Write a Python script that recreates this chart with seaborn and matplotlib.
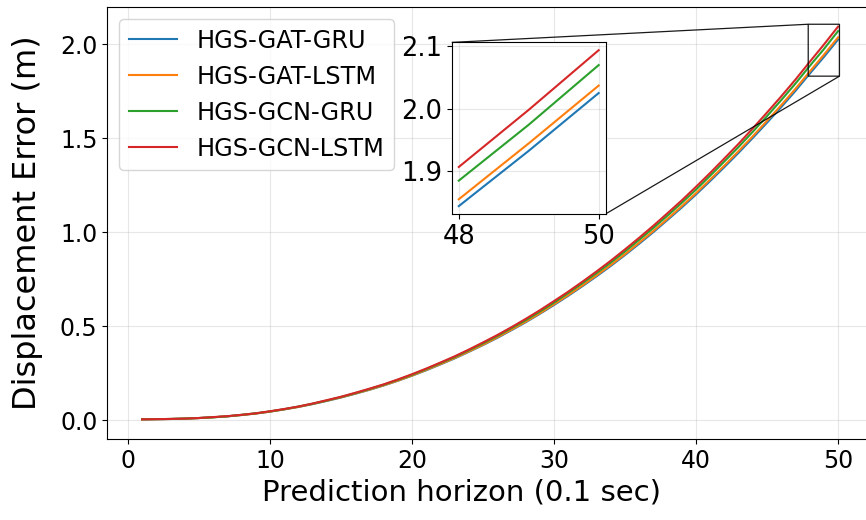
import pandas as pd
import matplotlib
matplotlib.use("Agg")
import matplotlib.pyplot as plt
import seaborn as sns

horizon = list(range(1, 51))

gat_gru = [0.005, 0.006, 0.007, 0.009, 0.012, 0.016, 0.021, 0.028, 0.036, 0.046,
           0.058, 0.071, 0.086, 0.103, 0.121, 0.141, 0.162, 0.185, 0.210, 0.237,
           0.266, 0.297, 0.329, 0.364, 0.400, 0.438, 0.479, 0.521, 0.566, 0.613,
           0.662, 0.713, 0.766, 0.821, 0.879, 0.939, 1.001, 1.066, 1.132, 1.201,
           1.273, 1.347, 1.423, 1.502, 1.583, 1.666, 1.752, 1.843, 1.932, 2.025]
gat_lstm = [0.005, 0.006, 0.007, 0.009, 0.012, 0.016, 0.021, 0.028, 0.036, 0.046,
            0.058, 0.071, 0.087, 0.104, 0.122, 0.142, 0.163, 0.186, 0.211, 0.238,
            0.268, 0.299, 0.331, 0.366, 0.402, 0.441, 0.482, 0.524, 0.569, 0.617,
            0.666, 0.717, 0.771, 0.826, 0.884, 0.945, 1.007, 1.072, 1.139, 1.208,
            1.281, 1.355, 1.432, 1.511, 1.593, 1.676, 1.763, 1.854, 1.944, 2.037]
gcn_gru = [0.005, 0.006, 0.007, 0.009, 0.012, 0.016, 0.021, 0.029, 0.037, 0.047,
           0.059, 0.073, 0.088, 0.105, 0.124, 0.144, 0.166, 0.189, 0.215, 0.242,
           0.272, 0.304, 0.336, 0.372, 0.409, 0.448, 0.490, 0.532, 0.578, 0.626,
           0.677, 0.729, 0.783, 0.839, 0.898, 0.960, 1.023, 1.089, 1.157, 1.227,
           1.301, 1.377, 1.454, 1.535, 1.618, 1.703, 1.791, 1.884, 1.974, 2.070]
gcn_lstm = [0.005, 0.006, 0.007, 0.009, 0.012, 0.017, 0.022, 0.029, 0.037, 0.048,
            0.060, 0.073, 0.089, 0.107, 0.125, 0.146, 0.168, 0.191, 0.217, 0.245,
            0.275, 0.307, 0.340, 0.376, 0.414, 0.453, 0.495, 0.539, 0.585, 0.634,
            0.684, 0.737, 0.792, 0.849, 0.909, 0.971, 1.035, 1.102, 1.170, 1.242,
            1.316, 1.393, 1.471, 1.553, 1.637, 1.723, 1.812, 1.906, 1.998, 2.094]

models = ["HGS-GAT-GRU", "HGS-GAT-LSTM", "HGS-GCN-GRU", "HGS-GCN-LSTM"]
series = [gat_gru, gat_lstm, gcn_gru, gcn_lstm]

df = pd.concat([pd.DataFrame({"horizon": horizon, "error": s, "model": m})
                for m, s in zip(models, series)], ignore_index=True)
palette = dict(zip(models, sns.color_palette("tab10", 4)))

fig = plt.figure(figsize=(8.66, 5.2), dpi=100)
ax = fig.add_axes([0.1239, 0.1558, 0.884, 0.8308])

sns.lineplot(data=df, x="horizon", y="error", hue="model", hue_order=models,
             palette=palette, linewidth=1.5, ax=ax)
ax.grid(True, alpha=0.3)
ax.set_xlabel("Prediction horizon (0.1 sec)", fontsize=21)
ax.set_ylabel("Displacement Error (m)", fontsize=23, labelpad=12)
ax.xaxis.set_label_coords(0.4625, -0.092)
ax.tick_params(labelsize=17)
handles, labels = ax.get_legend_handles_labels()
ax.legend(handles, labels, loc="upper left", fontsize=17.3)

# zoomed inset over the last steps
axins = ax.inset_axes([0.450, 0.521, 0.201, 0.397])
sub = df[df["horizon"] >= 48]
sns.lineplot(data=sub, x="horizon", y="error", hue="model", hue_order=models,
             palette=palette, linewidth=1.5, ax=axins, legend=False)
axins.set_xticks([48, 50])
axins.set_yticks([1.9, 2.0, 2.1])
axins.grid(True, alpha=0.3)
axins.set_xlabel("")
axins.set_ylabel("")
axins.tick_params(labelsize=18.5)
ax.indicate_inset_zoom(axins, edgecolor="black", alpha=0.9, linewidth=0.9)

fig.savefig("out.png", dpi=100)
